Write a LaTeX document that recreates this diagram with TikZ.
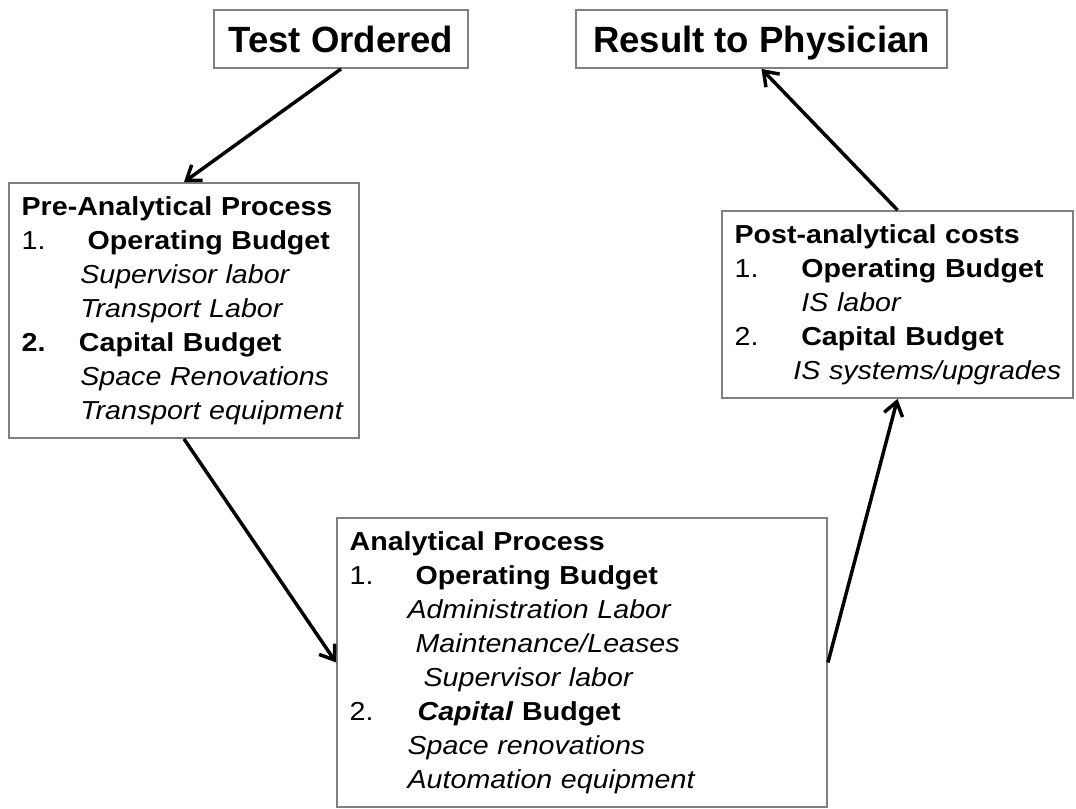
\documentclass[tikz,border=0pt]{standalone}
\usepackage{fontspec}
\setmainfont{Liberation Sans}
\newfontfamily\bodyfont[FakeStretch=1.1]{Liberation Sans}
\usetikzlibrary{arrows.meta}

\definecolor{boxgray}{gray}{0.5}

% numbered budget heading and indented cost item
\newcommand{\budgetline}[3]{\makebox[#1][l]{#2}\mbox{\bfseries #3}}
\newcommand{\cost}[2]{\hspace*{#1}\mbox{\itshape #2}}

\tikzset{
    stage/.style={draw=boxgray, line width=1.4pt, inner sep=0pt,
        text height=20pt, text depth=0.5pt,
        font=\bfseries\fontsize{27.4}{32}\selectfont},
    budget/.style={draw=boxgray, line width=1.4pt, align=left, inner xsep=9.5pt,
        font=\bodyfont\fontsize{19.5}{25.5}\selectfont},
    flow/.style={line width=2.6pt, -{Straight Barb[length=3.5mm,width=5mm]}}
}

\begin{document}
\begin{tikzpicture}[x=0.75pt, y=-0.75pt]
            \useasboundingbox (0,0) rectangle (1076,808);

            \node[stage, minimum width=190.5pt, minimum height=43.5pt] (test) at (341,39) {Test Ordered};
            \node[stage, minimum width=278.25pt, minimum height=43.5pt] (result) at (761.5,39) {Result to Physician};

            \node[budget, text width=243.5pt, minimum height=191.25pt] (pre) at (184,310.5) {%
                \textbf{Pre-Analytical Process}\\
                \budgetline{49.5pt}{1.}{Operating Budget}\\
                \cost{44pt}{Supervisor labor}\\
                \cost{44pt}{Transport Labor}\\
                \budgetline{43pt}{\textbf{2.}}{Capital Budget}\\
                \cost{44pt}{Space Renovations}\\
                \cost{44pt}{Transport equipment}};

            \node[budget, text width=244.25pt, minimum height=140.25pt] (post) at (897.5,304.5) {%
                \textbf{Post-analytical costs}\\
                \budgetline{50pt}{1.}{Operating Budget}\\
                \cost{50pt}{IS labor}\\
                \budgetline{50pt}{2.}{Capital Budget}\\
                \cost{44pt}{IS systems/upgrades}};

            \node[budget, text width=348.5pt, minimum height=216.75pt] (ana) at (582,662.5) {%
                \textbf{Analytical Process}\\
                \budgetline{49.5pt}{1.}{Operating Budget}\\
                \cost{43.5pt}{Administration Labor}\\
                \cost{49.5pt}{Maintenance/Leases}\\
                \cost{55.5pt}{Supervisor labor}\\
                \budgetline{51pt}{2.}{\textit{Capital} Budget}\\
                \cost{43.5pt}{Space renovations}\\
                \cost{43.5pt}{Automation equipment}};

            \draw[flow] (test.south) -- (pre.north);
            \draw[flow] (pre.south) -- (ana.west);
            \draw[flow] (ana.east) -- (post.south);
            \draw[flow] (post.north) -- (result.south);
\end{tikzpicture}
\end{document}
